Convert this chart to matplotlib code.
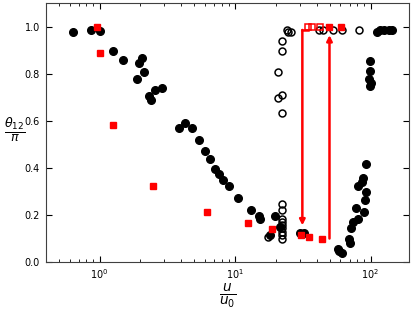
import matplotlib
matplotlib.use('Agg')

import matplotlib.pyplot as plt

# DATA
filled_u = [0.64, 0.86, 1.00, 1.26, 1.50, 2.04, 1.96, 2.14, 1.88, 2.89, 2.55, 2.32, 2.38,
            4.24, 3.83, 4.81, 5.41, 5.96, 6.59, 7.06, 7.60, 8.19, 9.06, 10.6,
            13.1, 15.1, 15.3, 19.6, 21.3, 18.1, 30.3, 32.4,
            57.4, 59.0, 61.5, 70.8, 68.8, 72.1, 74.2, 81.5, 78.4, 89.8, 90.3, 92.5,
            81.5, 86.4, 88.0, 92.5,
            99.5, 99.5, 98.0, 101.0, 99.5,
            111, 118, 125, 136, 144]
filled_t = [0.979, 0.988, 0.983, 0.896, 0.861, 0.868, 0.847, 0.810, 0.780, 0.741, 0.732, 0.704, 0.687,
            0.593, 0.568, 0.568, 0.518, 0.473, 0.437, 0.397, 0.375, 0.350, 0.323, 0.273,
            0.220, 0.194, 0.181, 0.194, 0.149, 0.116, 0.121, 0.121,
            0.053, 0.047, 0.036, 0.078, 0.099, 0.142, 0.170, 0.184, 0.227, 0.212, 0.262, 0.295,
            0.321, 0.340, 0.358, 0.418,
            0.853, 0.811, 0.779, 0.760, 0.750,
            0.977, 0.987, 0.987, 0.987, 0.987]

open_u = [22.4, 22.4, 22.4, 22.4, 22.4, 22.4, 22.4, 22.4, 22.4, 17.4,
          24.1, 24.4, 26.0, 22.4, 22.4, 20.9, 22.4, 20.9, 22.4,
          41.8, 44.3, 53.3, 61.5, 82.6]
open_t = [0.248, 0.220, 0.184, 0.170, 0.156, 0.142, 0.127, 0.113, 0.095, 0.106,
          0.987, 0.977, 0.977, 0.940, 0.896, 0.810, 0.712, 0.699, 0.634,
          0.987, 0.987, 0.987, 0.987, 0.987]

red_u = [0.957, 1.00, 1.26, 2.50, 6.24, 12.4, 18.7, 30.8, 34.9, 43.8, 49.8, 60.8]
red_t = [0.998, 0.888, 0.582, 0.324, 0.214, 0.166, 0.138, 0.113, 0.105, 0.099, 1.0, 1.0]

red_open_u = [34.5, 36.9, 42.5]
red_open_t = [1.0, 1.0, 1.0]

# arrows: (x, y_start, y_end)
arrow_down = (31.4, 0.987, 0.155)
arrow_up = (49.8, 0.099, 0.965)
connector_u = [31.4, 34.5]
connector_t = [0.987, 0.987]

yticks = [0.0, 0.2, 0.4, 0.6, 0.8, 1.0]

fig = plt.figure(figsize=(4.15, 3.12), dpi=100)
ax = fig.add_axes([0.110, 0.161, 0.876, 0.828])

ax.plot(filled_u, filled_t, 'o', color='black', ms=5.5, mec='black', zorder=3)
ax.plot(open_u, open_t, 'o', mfc='none', mec='black', mew=1.1, ms=5, zorder=3)
ax.plot(red_u, red_t, 's', color='red', mec='red', ms=4.5, zorder=4)
ax.plot(red_open_u, red_open_t, 's', mfc='none', mec='red', mew=1.1, ms=4.5, zorder=4)

ax.plot(connector_u, connector_t, color='red', lw=1.8, zorder=2)
for x, y0, y1 in (arrow_down, arrow_up):
    ax.annotate('', xy=(x, y1), xytext=(x, y0),
                arrowprops=dict(arrowstyle='-|>', color='red', lw=1.8,
                                mutation_scale=8, shrinkA=0, shrinkB=0),
                zorder=2)

ax.set_xscale('log')
ax.set_xlim(0.4, 193)
ax.set_ylim(0, 1.1)
ax.set_yticks(yticks)
ax.set_yticklabels(['%.1f' % v for v in yticks])

ax.tick_params(which='both', direction='in', top=True, right=True, labelsize=7)
ax.tick_params(which='major', length=4, pad=4)
ax.tick_params(which='minor', length=2)
for s in ax.spines.values():
    s.set_color('0.25')

ax.set_xlabel(r'$\frac{u}{u_0}$', fontsize=14, labelpad=0)
ax.set_ylabel(r'$\frac{\theta_{12}}{\pi}$', fontsize=13, rotation=0, ha='center', va='center')
ax.yaxis.set_label_coords(-0.086, 0.51)

fig.savefig('out.png', dpi=100)
